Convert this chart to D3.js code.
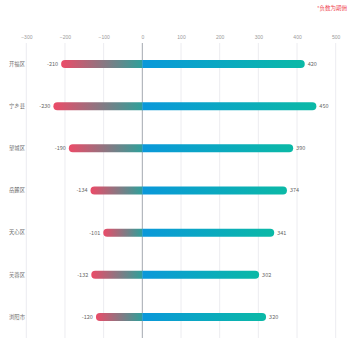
<!DOCTYPE html>
<html><head><meta charset="utf-8">
<script src="https://cdn.jsdelivr.net/npm/d3@7"></script>
<style>body{margin:0;background:#fff;}svg{display:block;font-family:"Noto Sans CJK SC","Noto Sans",sans-serif;}</style>
</head><body>
<svg id="c" width="350" height="350"></svg>
<script>
const categories = ["开福区","宁乡县","望城区","岳麓区","天心区","芙蓉区","浏阳市"];
const negValues = [-210,-230,-190,-134,-101,-132,-120];
const posValues = [420,450,390,374,341,302,320];
const tickValues = [-300,-200,-100,0,100,200,300,400,500];
const note = "*负数为期佣";

const svg = d3.select("#c");
const x = d3.scaleLinear().domain([-300,500]).range([26.3,335.7]);
const y = d3.scaleBand().domain(categories).range([43,338]);
const barH = 8;

const defs = svg.append("defs");
const gn = defs.append("linearGradient").attr("id","gneg").attr("x1","0").attr("x2","1").attr("y1","0").attr("y2","0");
gn.append("stop").attr("offset","0%").attr("stop-color","#ec4b68");
gn.append("stop").attr("offset","100%").attr("stop-color","#2ea09a");
const gp = defs.append("linearGradient").attr("id","gpos").attr("x1","0").attr("x2","1").attr("y1","0").attr("y2","0");
gp.append("stop").attr("offset","0%").attr("stop-color","#0a98da");
gp.append("stop").attr("offset","100%").attr("stop-color","#0bb9a6");

// grid
svg.append("g").selectAll("line").data(tickValues).join("line")
  .attr("x1",d=>x(d)).attr("x2",d=>x(d)).attr("y1",43).attr("y2",338)
  .attr("stroke",d=>d===0?"#a4a8b0":"#ececf0").attr("stroke-width",1);

// axis labels
const ax = svg.append("g").attr("transform","translate(0,39)").call(d3.axisTop(x).tickValues(tickValues).tickSize(0).tickPadding(0));
ax.select(".domain").remove();
ax.selectAll("text").attr("fill","#999").attr("font-size",5);

// category labels
svg.append("g").selectAll("text").data(categories).join("text")
  .attr("x",17).attr("y",d=>y(d)+y.bandwidth()/2).attr("dy","0.35em")
  .attr("text-anchor","middle").attr("font-size",5.3).attr("fill","#6f6f6f").text(d=>d);

const rows = categories.map((c,i)=>({c, n:negValues[i], p:posValues[i]}));
svg.append("g").selectAll("path").data(rows).join("path")
  .attr("fill","url(#gneg)")
  .attr("d",d=>{
    const x0=x(d.n), x1=x(0), yc=y(d.c)+y.bandwidth()/2, r=barH/2;
    return `M${x1},${yc-r}L${x0+r},${yc-r}A${r},${r} 0 0 0 ${x0+r},${yc+r}L${x1},${yc+r}Z`;
  });
svg.append("g").selectAll("path").data(rows).join("path")
  .attr("fill","url(#gpos)")
  .attr("d",d=>{
    const x0=x(0), x1=x(d.p), yc=y(d.c)+y.bandwidth()/2, r=barH/2;
    return `M${x0},${yc-r}L${x1-r},${yc-r}A${r},${r} 0 0 1 ${x1-r},${yc+r}L${x0},${yc+r}Z`;
  });

// value labels
svg.append("g").selectAll("text").data(rows).join("text")
  .attr("x",d=>x(d.n)-3).attr("y",d=>y(d.c)+y.bandwidth()/2).attr("dy","0.35em")
  .attr("text-anchor","end").attr("font-size",5.5).attr("fill","#666").text(d=>d.n);
svg.append("g").selectAll("text").data(rows).join("text")
  .attr("x",d=>x(d.p)+3).attr("y",d=>y(d.c)+y.bandwidth()/2).attr("dy","0.35em")
  .attr("text-anchor","start").attr("font-size",5.5).attr("fill","#666").text(d=>d.p);

svg.append("text").attr("x",347).attr("y",10).attr("text-anchor","end")
  .attr("font-size",5.5).attr("fill","#f0434f").text(note);
</script>
</body></html>
